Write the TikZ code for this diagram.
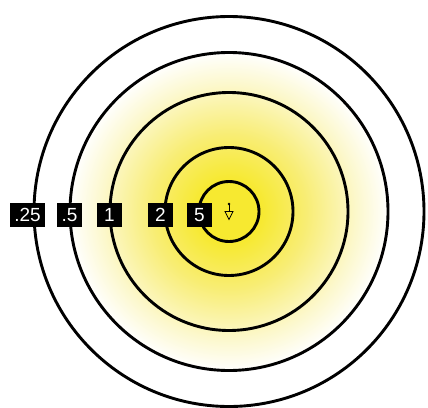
\documentclass[tikz,border=0pt]{standalone}
\usepackage{fontspec}
\setsansfont{Liberation Sans}
\usepackage{tikz}
\usetikzlibrary{arrows.meta,positioning}

\definecolor{glowyellow}{RGB}{247,233,48}
\definecolor{midyellow}{RGB}{248,237,115}
\definecolor{paleyellow}{RGB}{252,248,205}
\pgfdeclareradialshading{glow}{\pgfpoint{0bp}{0bp}}{color(0bp)=(glowyellow); color(5bp)=(glowyellow); color(12bp)=(midyellow); color(20bp)=(paleyellow); color(25bp)=(white); color(50bp)=(white)}

\begin{document}
\begin{tikzpicture}[x=1pt, y=-1pt,
  ring/.style={draw, line width=2.9pt},
  tag/.style={fill=black, text=white, font=\sffamily\fontsize{19}{19}\selectfont, minimum width=25pt, minimum height=24pt, inner xsep=4pt, inner ysep=0pt}
]
\useasboundingbox (0,0) rectangle (428,407);
\coordinate (c) at (229,211.5);
% yellow glow behind the rings
\shade[shading=glow] (c) circle (160);
\draw[ring] (c) circle (30);
\draw[ring] (c) circle (64);
\draw[ring] (c) circle (119);
\draw[ring] (c) circle (159);
\draw[ring] (c) circle (195);
% small marker at the centre
\coordinate (top) at (229,204);
\coordinate (tip) at (229,219.5);
\fill (top) circle (1.4);
\draw[line width=0.8pt] (top) -- (229,211.5);
\draw[line width=0.8pt, line join=miter] (225,211.5) -- (233,211.5) -- (tip) -- cycle;
% labels
\node[tag] (q25) at (27.5,215) {.25};
\node[tag] (q5) at (69.5,215) {.5};
\node[tag] (one) at (109.5,215) {1};
\node[tag] (two) at (160.5,215) {2};
\node[tag] (five) at (199.5,215) {5};
\end{tikzpicture}
\end{document}
